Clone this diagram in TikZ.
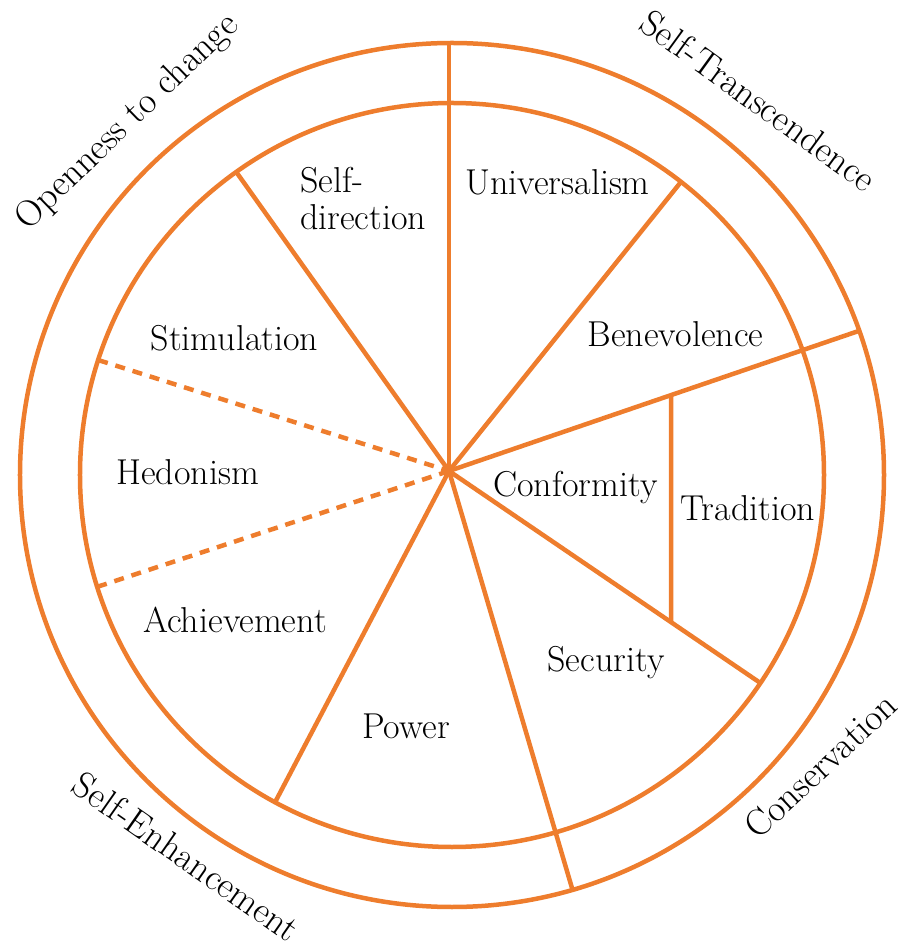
\documentclass[tikz,border=0pt]{standalone}
\usepackage{fontspec}
\definecolor{sorange}{RGB}{238,125,45}
\begin{document}
\begin{tikzpicture}[x=1pt,y=1pt,
  ring/.style={draw=sorange, line width=4.5pt},
  spoke/.style={draw=sorange, line width=4.5pt},
  dashspoke/.style={draw=sorange, line width=4.5pt, dash pattern=on 10pt off 8pt},
  val/.style={font=\fontsize{36}{37}\selectfont, inner sep=0pt, anchor=base},
  axislabel/.style={font=\fontsize{37}{40}\selectfont, inner sep=0pt, anchor=base}]
\useasboundingbox (-452,-474) rectangle (449,475);
\coordinate (O) at (0,0);
\coordinate (hub) at (-3,4);
% rings
\draw[ring] (O) circle[radius=432];
\draw[ring] (O) circle[radius=372];
% spoke ends
\coordinate (e1) at (-3,432);
\coordinate (e2) at (125.45:372);
\coordinate (e3) at (52.0:372);
\coordinate (e4) at (19.5:432);
\coordinate (e5) at (-34.0:372);
\coordinate (e6) at (-73.8:432);
\coordinate (e7) at (241.6:372);
\coordinate (e8) at (162.0:372);
\coordinate (e9) at (197.5:372);
\coordinate (t1) at (219,0);
\coordinate (t2) at (219,10);
\coordinate (ttop) at (intersection of hub--e4 and t1--t2);
\coordinate (tbot) at (intersection of hub--e5 and t1--t2);
% spokes
\draw[spoke] (hub) -- (e1);
\draw[spoke] (hub) -- (e2);
\draw[spoke] (hub) -- (e3);
\draw[spoke] (hub) -- (e4);
\draw[spoke] (hub) -- (e5);
\draw[spoke] (hub) -- (e6);
\draw[spoke] (hub) -- (e7);
\draw[spoke] (ttop) -- (tbot);
\draw[dashspoke] (e8) -- (hub);
\draw[dashspoke] (e9) -- (hub);
% values
\node[val, anchor=base west, align=left] (selfdir) at (-152,282)
  {\begin{tabular}[t]{@{}l@{}}Self-\\direction\end{tabular}};
\node[val] (univ) at (105.5,280) {Universalism};
\node[val] (bene) at (223.5,128) {Benevolence};
\node[val] (conf) at (123.5,-22) {Conformity};
\node[val] (trad) at (296,-46) {Tradition};
\node[val] (secu) at (154,-196) {Security};
\node[val] (powr) at (-46,-263) {Power};
\node[val] (achv) at (-217,-158) {Achievement};
\node[val] (hedo) at (-264.5,-10) {Hedonism};
\node[val] (stim) at (-217.5,124) {Stimulation};
% higher-order labels
\node[axislabel, rotate=44] (open) at (-318,346) {Openness to change};
\node[axislabel, rotate=-36] (trans) at (299,364) {Self-Transcendence};
\node[axislabel, rotate=43] (cons) at (377,-300) {Conservation};
\node[axislabel, rotate=-35] (enh) at (-273,-392) {Self-Enhancement};
\end{tikzpicture}
\end{document}
